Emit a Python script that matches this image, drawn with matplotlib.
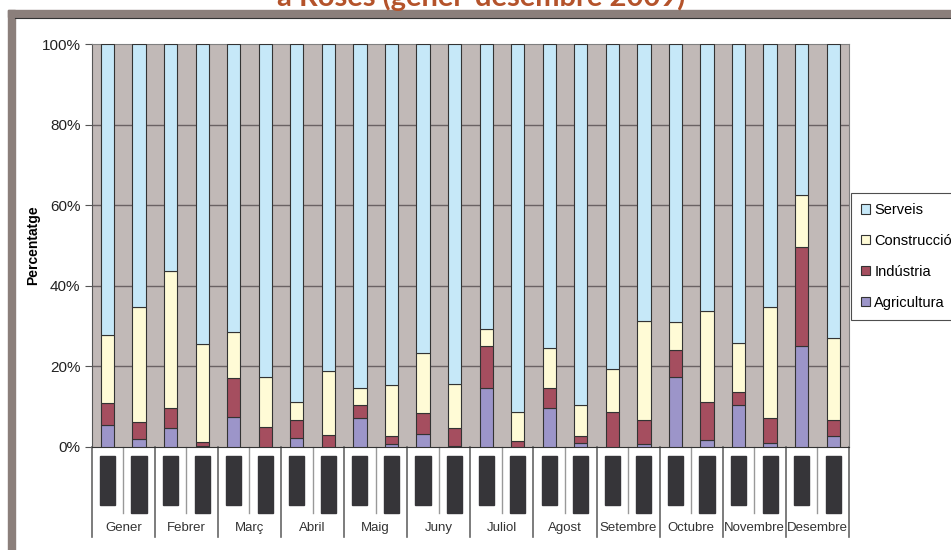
import matplotlib.pyplot as plt
import matplotlib.patches as mpatches
import matplotlib.transforms as mtransforms
import numpy as np

plt.rcParams['font.family'] = ['Liberation Sans', 'DejaVu Sans']

# data (percent of each bar)
months = ['Gener', 'Febrer', 'Març', 'Abril', 'Maig', 'Juny', 'Juliol',
          'Agost', 'Setembre', 'Octubre', 'Novembre', 'Desembre']
agricultura = [5.5, 1.9, 4.7, 0.3, 7.5, 0.0, 2.2, 0.0, 7.3, 0.7, 3.3, 0.3,
               14.6, 0.0, 9.8, 1.1, 0.0, 0.8, 17.4, 1.7, 10.4, 1.1, 25.0, 2.7]
industria = [5.4, 4.2, 4.9, 0.9, 9.5, 5.0, 4.5, 3.1, 3.0, 2.0, 5.1, 4.5,
             10.4, 1.4, 4.8, 1.7, 8.7, 5.9, 6.7, 9.5, 3.3, 6.2, 24.7, 4.0]
construccio = [17.0, 28.7, 34.0, 24.3, 11.6, 12.4, 4.5, 15.7, 4.3, 12.6, 14.9, 10.9,
               4.3, 7.3, 9.9, 7.6, 10.7, 24.6, 6.8, 22.5, 12.1, 27.5, 12.8, 20.3]
serveis = [72.1, 65.2, 56.4, 74.5, 71.4, 82.6, 88.8, 81.2, 85.4, 84.7, 76.7, 84.3,
           70.7, 91.3, 75.5, 89.6, 80.6, 68.7, 69.1, 66.3, 74.2, 65.2, 37.5, 73.0]

series = [('Agricultura', agricultura, '#9c95c9'),
          ('Indústria', industria, '#a54e5f'),
          ('Construcció', construccio, '#fffbd6'),
          ('Serveis', serveis, '#c6e8f8')]

W, H = 951, 550
fig = plt.figure(figsize=(W / 100, H / 100), dpi=100)

# slide frame
frame_col = '#8b7f7b'
fig.patches.append(mpatches.Rectangle((8 / W, 1 - 17 / H), 1, 7 / H, transform=fig.transFigure,
                                      color=frame_col, zorder=0))
fig.patches.append(mpatches.Rectangle((8 / W, 0), 7 / W, 1 - 10 / H, transform=fig.transFigure,
                                      color=frame_col, zorder=0))
fig.lines.append(plt.Line2D([15 / W, 1], [1 - 17.5 / H] * 2, transform=fig.transFigure,
                            color='#333333', lw=0.8))

# title is cut off at the top edge like in the original screenshot
fig.text(481 / W, 1 - 6 / H, 'a Roses (gener-desembre 2009)', ha='center', va='baseline',
         fontsize=21, fontweight='bold', color='#b4532b', family=['Lato', 'DejaVu Sans'])

x0, x1, ytop, ybot = 91.7, 849, 44, 447
ax = fig.add_axes([x0 / W, 1 - ybot / H, (x1 - x0) / W, (ybot - ytop) / H])
ax.set_facecolor('#c1b9b7')

x = np.arange(len(serveis))
bottom = np.zeros(len(x))
for name, vals, col in series:
    ax.bar(x, vals, bottom=bottom, width=0.42, color=col, edgecolor='#333333',
           linewidth=0.8, label=name, zorder=3)
    bottom += np.array(vals)

ax.set_xlim(-0.5, len(x) - 0.5)
ax.set_ylim(0, 100)
ax.set_yticks([0, 20, 40, 60, 80, 100])
ax.set_yticklabels(['0%', '20%', '40%', '60%', '80%', '100%'], fontsize=11, color='#222222')
ax.set_xticks([])
ax.tick_params(axis='y', length=5, width=0.8, color='#555555', pad=3)
for v in [20, 40, 60, 80]:
    ax.axhline(v, color='#6a6264', lw=1, zorder=1)
for s in ax.spines.values():
    s.set_color('#808080')
    s.set_linewidth(0.8)
ax.spines['left'].set_color('#555555')
ax.spines['bottom'].set_color('#333333')
ax.set_ylabel('Percentatge', fontsize=10, fontweight='bold')
ax.yaxis.set_label_coords((40 - x0) / (x1 - x0), 0.5)

# category table below the axis
tr = mtransforms.blended_transform_factory(ax.transData, fig.transFigure)
def fy(py):
    return 1 - py / H

for i in x:
    yb = 505 if i % 2 == 0 else 512.5
    ax.add_patch(mpatches.Rectangle((i - 0.24, fy(yb)), 0.48, (yb - 456) / H, transform=tr,
                                    color='#363539', clip_on=False))
for m in range(len(months) + 1):
    xl = 2 * m - 0.5
    ax.add_line(plt.Line2D([xl, xl], [fy(447), fy(537)], transform=tr, color='#666666',
                           lw=1.2, clip_on=False))
for m, name in enumerate(months):
    xl = 2 * m + 0.5
    ax.add_line(plt.Line2D([xl, xl], [fy(447), fy(513)], transform=tr, color='#999999',
                           lw=1, clip_on=False))
    ax.text(2 * m + 0.5, fy(528), name, transform=tr, ha='center', va='center',
            fontsize=9.5, color='#333333')

handles, labels = ax.get_legend_handles_labels()
leg = fig.legend(handles[::-1], labels[::-1], loc='upper left',
                 bbox_to_anchor=(851 / W, 1 - 193 / H), fontsize=10.5, frameon=True,
                 fancybox=False, edgecolor='#222222', handlelength=0.6, handleheight=0.6,
                 handletextpad=0.3, labelspacing=1.15, borderpad=0.7, borderaxespad=0)
leg.get_frame().set_linewidth(0.8)

fig.savefig('out.png', dpi=100)
